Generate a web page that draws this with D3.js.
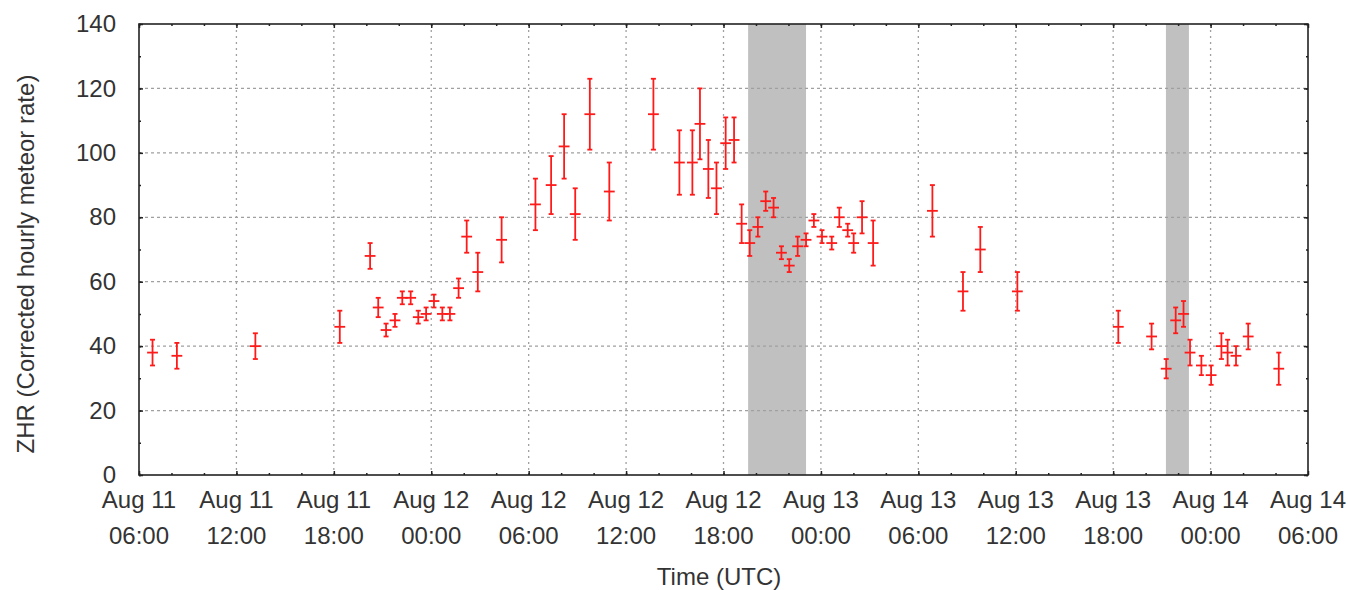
<!DOCTYPE html>
<html>
<head>
<meta charset="utf-8">
<script src="https://cdn.jsdelivr.net/npm/d3@7"></script>
<style>
  html, body { margin: 0; padding: 0; background: #fff; }
  svg { display: block; font-family: "Liberation Sans", Arial, sans-serif; }
</style>
</head>
<body>
<svg id="chart" width="1348" height="590"></svg>
<script>
// ---- data ----
const times = [
  "2016-08-11T06:50Z","2016-08-11T08:20Z","2016-08-11T13:10Z","2016-08-11T18:22Z",
  "2016-08-11T20:14Z","2016-08-11T20:44Z","2016-08-11T21:13Z","2016-08-11T21:46Z",
  "2016-08-11T22:13Z","2016-08-11T22:44Z","2016-08-11T23:12Z","2016-08-11T23:41Z",
  "2016-08-12T00:10Z","2016-08-12T00:41Z","2016-08-12T01:09Z","2016-08-12T01:41Z",
  "2016-08-12T02:11Z","2016-08-12T02:52Z","2016-08-12T04:20Z","2016-08-12T06:25Z",
  "2016-08-12T07:23Z","2016-08-12T08:11Z","2016-08-12T08:52Z","2016-08-12T09:46Z",
  "2016-08-12T10:58Z","2016-08-12T13:41Z","2016-08-12T15:17Z","2016-08-12T16:05Z",
  "2016-08-12T16:33Z","2016-08-12T17:04Z","2016-08-12T17:34Z","2016-08-12T18:08Z",
  "2016-08-12T18:39Z","2016-08-12T19:07Z","2016-08-12T19:37Z","2016-08-12T20:07Z",
  "2016-08-12T20:36Z","2016-08-12T21:05Z","2016-08-12T21:34Z","2016-08-12T22:03Z",
  "2016-08-12T22:34Z","2016-08-12T23:05Z","2016-08-12T23:34Z","2016-08-13T00:04Z",
  "2016-08-13T00:40Z","2016-08-13T01:08Z","2016-08-13T01:39Z","2016-08-13T02:01Z",
  "2016-08-13T02:32Z","2016-08-13T03:13Z","2016-08-13T06:52Z","2016-08-13T08:45Z",
  "2016-08-13T09:49Z","2016-08-13T12:06Z","2016-08-13T18:19Z","2016-08-13T20:22Z",
  "2016-08-13T21:16Z","2016-08-13T21:51Z","2016-08-13T22:20Z","2016-08-13T22:44Z",
  "2016-08-13T23:26Z","2016-08-14T00:02Z","2016-08-14T00:40Z","2016-08-14T01:03Z",
  "2016-08-14T01:34Z","2016-08-14T02:19Z","2016-08-14T04:12Z"
];
const zhr = [
  38,37,40,46,
  68,52,45,48,
  55,55,49,50,
  54,50,50,58,
  74,63,73,84,
  90,102,81,112,
  88,112,97,97,
  109,95,89,103,
  104,78,72,77,
  85,83,69,65,
  71,73,79,74,
  72,80,76,72,
  80,72,82,57,
  70,57,46,43,
  33,48,50,38,
  34,31,40,38,
  37,43,33
];
const zhrErr = [
  4,4,4,5,
  4,3,2,2,
  2,2,2,2,
  2,2,2,3,
  5,6,7,8,
  9,10,8,11,
  9,11,10,10,
  11,9,8,8,
  7,6,4,3,
  3,3,2,2,
  3,2,2,2,
  2,3,2,3,
  5,7,8,6,
  7,6,5,4,
  3,4,4,4,
  3,3,4,4,
  3,4,5
];
const timeHalfWidthMinutes = 20;
const bandStarts = ["2016-08-12T19:31Z", "2016-08-13T21:15Z"];
const bandEnds   = ["2016-08-12T23:05Z", "2016-08-13T22:40Z"];
const xDomain = ["2016-08-11T06:00Z", "2016-08-14T06:00Z"];
const yTicks = [0, 20, 40, 60, 80, 100, 120, 140];
const xTickLabelsTop = ["Aug 11","Aug 11","Aug 11","Aug 12","Aug 12","Aug 12","Aug 12","Aug 13","Aug 13","Aug 13","Aug 13","Aug 14","Aug 14"];
const xTickLabelsBottom = ["06:00","12:00","18:00","00:00","06:00","12:00","18:00","00:00","06:00","12:00","18:00","00:00","06:00"];

// ---- layout ----
const W = 1348, H = 590;
const margin = { left: 139, right: 40, top: 24, bottom: 115 };
const iw = W - margin.left - margin.right;
const ih = H - margin.top - margin.bottom;

const svg = d3.select("#chart");
const g = svg.append("g").attr("transform", `translate(${margin.left},${margin.top})`);

const parse = s => new Date(s);
const x = d3.scaleUtc().domain(xDomain.map(parse)).range([0, iw]);
const y = d3.scaleLinear().domain([0, 140]).range([ih, 0]);

const data = times.map((t, i) => ({ t: parse(t), v: zhr[i], e: zhrErr[i] }));
const majorTicks = d3.utcHour.every(6).range(parse(xDomain[0]), d3.utcMinute.offset(parse(xDomain[1]), 1));
const minorTicks = d3.utcHour.every(2).range(parse(xDomain[0]), parse(xDomain[1]));

// shaded bands
g.selectAll("rect.band").data(bandStarts.map((s, i) => [parse(s), parse(bandEnds[i])]))
  .enter().append("rect")
  .attr("x", d => x(d[0])).attr("width", d => x(d[1]) - x(d[0]))
  .attr("y", 0).attr("height", ih)
  .attr("fill", "#c0c0c0");

// grid
g.append("g").selectAll("line").data(majorTicks.slice(1, -1)).enter().append("line")
  .attr("x1", d => x(d)).attr("x2", d => x(d)).attr("y1", 0).attr("y2", ih)
  .attr("stroke", "#a0a0a0").attr("stroke-width", 1.3).attr("stroke-dasharray", "2,4");
g.append("g").selectAll("line").data(yTicks.slice(1, -1)).enter().append("line")
  .attr("x1", 0).attr("x2", iw).attr("y1", d => y(d)).attr("y2", d => y(d))
  .attr("stroke", "#a0a0a0").attr("stroke-width", 1.3).attr("stroke-dasharray", "3,3");

// axes (ticks inward, mirrored)
const tickColor = "#222";
const yAxisL = d3.axisLeft(y).tickValues(yTicks).tickSize(-4).tickFormat("");
const yAxisR = d3.axisRight(y).tickValues(yTicks).tickSize(-4).tickFormat("");
const xAxisB = d3.axisBottom(x).tickValues(majorTicks).tickSize(-4).tickFormat("");
const xAxisT = d3.axisTop(x).tickValues(majorTicks).tickSize(-4).tickFormat("");
const xMinorB = d3.axisBottom(x).tickValues(minorTicks).tickSize(-2).tickFormat("");
const xMinorT = d3.axisTop(x).tickValues(minorTicks).tickSize(-2).tickFormat("");
const yMinorL = d3.axisLeft(y).tickValues(d3.range(0, 141, 10)).tickSize(-2).tickFormat("");
const yMinorR = d3.axisRight(y).tickValues(d3.range(0, 141, 10)).tickSize(-2).tickFormat("");

function styleAxis(sel) {
  sel.select(".domain").remove();
  sel.selectAll(".tick line").attr("stroke", tickColor).attr("stroke-width", 1.5);
}
g.append("g").call(yAxisL).call(styleAxis);
g.append("g").attr("transform", `translate(${iw},0)`).call(yAxisR).call(styleAxis);
g.append("g").attr("transform", `translate(0,${ih})`).call(xAxisB).call(styleAxis);
g.append("g").call(xAxisT).call(styleAxis);
g.append("g").attr("transform", `translate(0,${ih})`).call(xMinorB).call(styleAxis);
g.append("g").call(xMinorT).call(styleAxis);
g.append("g").call(yMinorL).call(styleAxis);
g.append("g").attr("transform", `translate(${iw},0)`).call(yMinorR).call(styleAxis);

// frame
g.append("rect").attr("x", 0).attr("y", 0).attr("width", iw).attr("height", ih)
  .attr("fill", "none").attr("stroke", "#222").attr("stroke-width", 1.6);

// tick labels
const labelColor = "#333";
const fs = 24;
g.append("g").selectAll("text").data(yTicks).enter().append("text")
  .attr("x", -23).attr("y", d => y(d)).attr("dy", "0.34em")
  .attr("text-anchor", "end").attr("font-size", fs).attr("fill", labelColor)
  .text(d => d);
const xl = g.append("g").selectAll("text").data(majorTicks).enter().append("text")
  .attr("text-anchor", "middle").attr("font-size", fs).attr("fill", labelColor)
  .attr("transform", d => `translate(${x(d)},${ih})`);
xl.append("tspan").attr("x", 0).attr("y", 33).text((d, i) => xTickLabelsTop[i]);
xl.append("tspan").attr("x", 0).attr("y", 69).text((d, i) => xTickLabelsBottom[i]);

// axis titles
svg.append("text").attr("x", 719).attr("y", 585)
  .attr("text-anchor", "middle").attr("font-size", 24).attr("fill", labelColor)
  .text("Time (UTC)");
svg.append("text")
  .attr("transform", `translate(34,264) rotate(-90)`)
  .attr("text-anchor", "middle").attr("font-size", 24).attr("fill", labelColor)
  .text("ZHR (Corrected hourly meteor rate)");

// error bars
const red = "#ff1a1a";
const pts = g.append("g").selectAll("g").data(data).enter().append("g");
pts.append("line")
  .attr("x1", d => x(d.t)).attr("x2", d => x(d.t))
  .attr("y1", d => y(d.v + d.e)).attr("y2", d => y(d.v - d.e))
  .attr("stroke", red).attr("stroke-width", 1.8);
pts.append("line")
  .attr("x1", d => x(d3.utcMinute.offset(d.t, -timeHalfWidthMinutes)))
  .attr("x2", d => x(d3.utcMinute.offset(d.t, timeHalfWidthMinutes)))
  .attr("y1", d => y(d.v)).attr("y2", d => y(d.v))
  .attr("stroke", red).attr("stroke-width", 1.8);
["top", "bot"].forEach(k => {
  pts.append("line")
    .attr("x1", d => x(d.t) - 2.5).attr("x2", d => x(d.t) + 2.5)
    .attr("y1", d => y(k === "top" ? d.v + d.e : d.v - d.e))
    .attr("y2", d => y(k === "top" ? d.v + d.e : d.v - d.e))
    .attr("stroke", red).attr("stroke-width", 1.8);
});
</script>
</body>
</html>
